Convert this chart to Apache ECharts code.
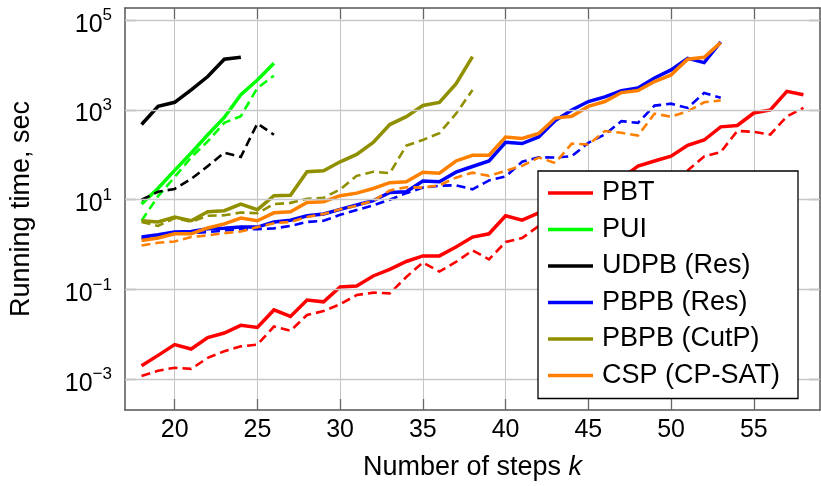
<!DOCTYPE html>
<html>
<head>
<meta charset="utf-8">
<script src="https://cdn.jsdelivr.net/npm/echarts@6/dist/echarts.min.js"></script>
<style>html,body{margin:0;padding:0;background:#fff}#c{width:821px;height:486px}</style>
</head>
<body>
<div id="c"></div>
<script>
// ---- data (running time in seconds) ----
var kAll = [18,19,20,21,22,23,24,25,26,27,28,29,30,31,32,33,34,35,36,37,38,39,40,41,42,43,44,45,46,47,48,49,50,51,52,53,54,55,56,57,58];
var xTicks = [20,25,30,35,40,45,50,55];
var yTickExps = [-3,-1,1,3,5];

var pbtSolid = [0.0020,0.0034,0.0059,0.0047,0.0085,0.0107,0.0159,0.0143,0.035,0.025,0.058,0.053,0.114,0.12,0.20,0.28,0.42,0.56,0.56,0.88,1.47,1.74,4.4,3.5,5.1,6.5,9,14,20,30,56,73,93,163,214,420,450,855,1000,2600,2190];
var pbtDashed = [0.00118,0.00155,0.0018,0.0017,0.0030,0.0042,0.0054,0.0059,0.0149,0.012,0.027,0.033,0.047,0.075,0.085,0.082,0.19,0.40,0.25,0.41,0.74,0.47,1.14,1.4,2.6,3.5,5.5,8,11,15,20,27,35,45,92,115,340,325,284,720,1110];

var puiSolid = [8.0,18,45,110,280,680,2190,4650,11000];
var puiDashed = [3.4,12,32,88,200,515,730,3080,5800];

var udpbSolid = [473,1200,1480,2800,5560,13500,14900];
var udpbDashed = [10,15,17.4,29,56,112,90,500,280];

var pbpbResSolid = [1.47,1.65,1.9,1.95,2.25,2.3,2.45,2.45,3.2,3.5,4.4,4.8,6.1,7.6,9.5,14.5,15,26,25,41,55,73,190,178,250,580,1000,1540,1950,2700,3070,5150,7800,14100,11350,33000];
var pbpbResDashed = [1.35,1.45,1.75,1.8,1.9,2.05,2.2,2.2,2.3,2.6,3.2,3.4,4.6,5.9,7.5,10,14,18.6,20.5,21,17,27,33,70,88,87,93,186,284,565,515,1250,1380,1110,2400,1860];

var pbpbCutSolid = [3.4,3.2,4.1,3.4,5.4,5.7,8.0,6.0,12.3,12.6,42,44,70,102,190,473,710,1260,1470,3800,15500];
var pbpbCutDashed = [3.2,2.6,3.9,3.2,4.4,4.5,5.2,5.0,8.0,8.5,10.5,11,17,34,42,39,160,215,305,820,2800];

var cspSolid = [1.23,1.4,1.74,1.74,2.35,2.9,3.9,3.4,5.1,5.4,8.7,9.0,12.3,14,17.8,24,25,41,39,73,98,98,250,232,300,660,720,1200,1540,2440,2700,4300,6050,13500,14900,31600];
var cspDashed = [0.95,1.1,1.17,1.47,1.6,1.8,1.95,2.45,3.0,3.2,4.1,4.8,6.1,7.4,9.5,16,19,18.6,21,31,40,34,44,57,87,66,178,170,340,310,270,830,705,930,1480,1630];

var names = ['PBT','PUI','UDPB (Res)','PBPB (Res)','PBPB (CutP)','CSP (CP-SAT)'];
var colors = ['#ff0000','#00ff00','#000000','#0000ff','#8f8f00','#ff8000'];
var solids = [pbtSolid,puiSolid,udpbSolid,pbpbResSolid,pbpbCutSolid,cspSolid];
var dashes = [pbtDashed,puiDashed,udpbDashed,pbpbResDashed,pbpbCutDashed,cspDashed];

function pts(vals){ return vals.map(function(v,i){ return [kAll[i], Math.log10(v)]; }); }

var FONT = 'Liberation Sans';
var series = [];
// horizontal grid lines at the labelled powers of ten
series.push({name:'grid', type:'line', data:[[kAll[0], yTickExps[0]]], showSymbol:false, symbol:'none',
  lineStyle:{width:0}, silent:true, z:1, animation:false,
  markLine:{silent:true, symbol:['none','none'], label:{show:false}, animation:false,
    lineStyle:{color:'#c8c8c8', width:1.3, type:'solid'},
    data:yTickExps.map(function(e){ return {yAxis:e}; })}});
for (var i=0;i<names.length;i++){
  series.push({name:names[i], type:'line', data:pts(solids[i]), showSymbol:false, symbol:'none',
    color:colors[i], lineStyle:{color:colors[i], width:3.5, type:'solid', cap:'butt', join:'miter'}, animation:false, z:3});
  series.push({name:names[i]+' ', type:'line', data:pts(dashes[i]), showSymbol:false, symbol:'none',
    color:colors[i], lineStyle:{color:colors[i], width:2.6, type:[9,5], cap:'butt', join:'miter'}, animation:false, z:3});
}

var axisLineStyle = {show:true, onZero:false, lineStyle:{color:'#555', width:1.5}};
var tickStyle = {show:true, inside:true, length:11, lineStyle:{color:'#666', width:1.3}};
var chart = echarts.init(document.getElementById('c'), null, {renderer:'canvas'});
chart.setOption({
  backgroundColor:'#fff',
  animation:false,
  grid:{left:124, right:1, top:8, bottom:74, containLabel:false},
  legend:{
    data:names, orient:'vertical', left:538, top:171,
    backgroundColor:'#fff', borderColor:'#000', borderWidth:1.3,
    padding:[7,18,8,10], itemGap:6.5, itemWidth:45, itemHeight:3.5, icon:'rect',
    textStyle:{fontFamily:FONT, fontSize:27, color:'#000', lineHeight:30, padding:[0,0,0,4]},
    z:10, selectedMode:false
  },
  xAxis:[{
    type:'value', min:17, max:59, position:'bottom',
    axisLine:axisLineStyle,
    axisTick:Object.assign({customValues:xTicks}, tickStyle),
    axisLabel:{customValues:xTicks, margin:8, fontFamily:FONT, fontSize:25, color:'#000'},
    splitLine:{show:true, lineStyle:{color:'#c4c4c4', width:1}},
    name:'Number of steps {i|k}', nameLocation:'middle', nameGap:44,
    nameTextStyle:{fontFamily:FONT, fontSize:27, color:'#000', rich:{i:{fontFamily:FONT, fontSize:27, fontStyle:'italic', color:'#000'}}}
  },{
    type:'value', min:17, max:59, position:'top',
    axisLine:axisLineStyle,
    axisTick:Object.assign({customValues:xTicks}, tickStyle),
    axisLabel:{show:false}, splitLine:{show:false}
  }],
  yAxis:[{
    type:'value', min:-3.686, max:5.272, position:'left',
    axisLine:axisLineStyle,
    axisTick:Object.assign({customValues:yTickExps}, tickStyle),
    axisLabel:{customValues:yTickExps, margin:13,
      formatter:function(v){ var e = Math.round(v); return '{b|10}{s|' + (e<0 ? '\u2212'+(-e) : e) + '}'; },
      rich:{b:{fontFamily:FONT, fontSize:25, color:'#000', lineHeight:34, verticalAlign:'bottom'},
            s:{fontFamily:FONT, fontSize:17, color:'#000', lineHeight:34, verticalAlign:'top', padding:[4,0,0,0]}}},
    splitLine:{show:false},
    name:'Running time, sec', nameLocation:'middle', nameGap:90, nameRotate:90,
    nameTextStyle:{fontFamily:FONT, fontSize:27, color:'#000'}
  },{
    type:'value', min:-3.686, max:5.272, position:'right',
    axisLine:axisLineStyle,
    axisTick:Object.assign({customValues:yTickExps}, tickStyle),
    axisLabel:{show:false}, splitLine:{show:false}
  }],
  series:series
});
</script>
</body>
</html>
